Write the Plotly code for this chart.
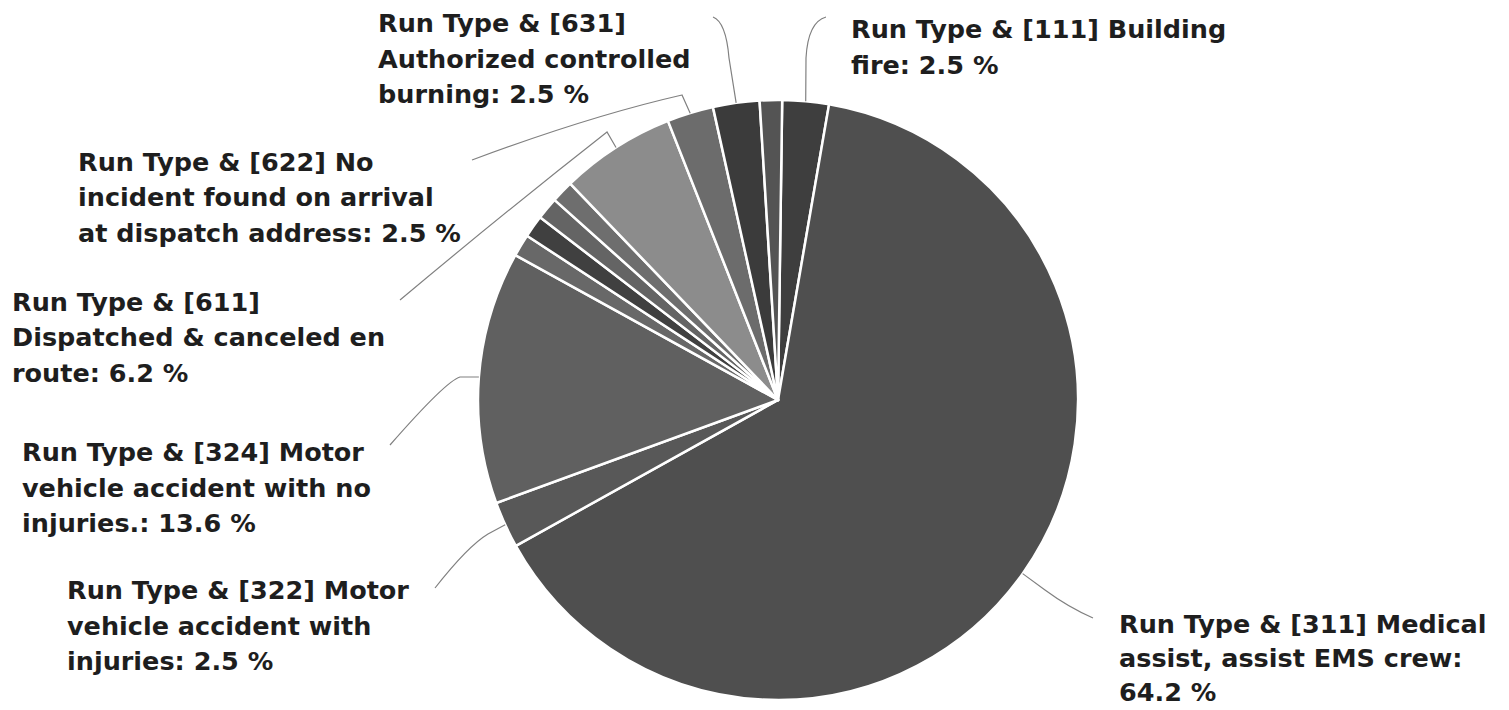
import math
import textwrap
import plotly.graph_objects as go

# ---------------- data ----------------
categories = [
    "Run Type & [111] Building fire",
    "Run Type & [311] Medical assist, assist EMS crew",
    "Run Type & [322] Motor vehicle accident with injuries",
    "Run Type & [324] Motor vehicle accident with no injuries.",
    "Run Type (unlabeled slice 1)",
    "Run Type (unlabeled slice 2)",
    "Run Type (unlabeled slice 3)",
    "Run Type (unlabeled slice 4)",
    "Run Type & [611] Dispatched & canceled en route",
    "Run Type & [622] No incident found on arrival at dispatch address",
    "Run Type & [631] Authorized controlled burning",
    "Run Type (unlabeled slice 5)",
]
values = [2.5, 64.2, 2.5, 13.6, 1.2, 1.2, 1.2, 1.2, 6.2, 2.5, 2.5, 1.2]
show_label = [True, True, True, True, False, False, False, False, True, True, True, False]

# ---------------- style / layout ----------------
slice_colors = [
    "#3e3e3e", "#4f4f4f", "#585858", "#606060",
    "#686868", "#404040", "#646464", "#6e6e6e",
    "#8c8c8c", "#6c6c6c", "#3b3b3b", "#545454",
]

W, H = 1509, 710
CX, CY, R = 778, 400, 300          # pie centre and radius in pixels
ROTATION = 0.8                      # degrees clockwise from 12 o'clock
FONT = dict(family="DejaVu Sans", size=25.5, color="#1e1e1e")

# per labelled slice: text left x, first-line centre y, line pitch, wrap width,
# leader elbow, curve control, leader end (pixels)
label_layout = {
    0: dict(x=850, y=29, pitch=35.5, wrap=25, elbow=(806, 58), ctrl=(808, 22), end=(826, 17)),
    1: dict(x=1118, y=624, pitch=34, wrap=24, elbow=(1045, 590), ctrl=(1068, 607), end=(1093, 618)),
    2: dict(x=66, y=590, pitch=35.5, wrap=22, elbow=(488, 534), ctrl=(468, 546), end=(435, 588)),
    3: dict(x=21, y=452, pitch=35.5, wrap=24, elbow=(460, 377), ctrl=(446, 381), end=(390, 445)),
    8: dict(x=11, y=302, pitch=35.5, wrap=24, elbow=(607, 132), ctrl=(505, 212), end=(400, 300)),
    9: dict(x=77, y=162, pitch=35.5, wrap=26, elbow=(682, 95), ctrl=(590, 116), end=(472, 160)),
    10: dict(x=377, y=23, pitch=35.5, wrap=21, elbow=(729, 58), ctrl=(726, 22), end=(713, 17)),
}


def px(x):
    return x / W


def py(y):
    return 1 - y / H


fig = go.Figure(
    go.Pie(
        labels=categories,
        values=values,
        sort=False,
        direction="clockwise",
        rotation=ROTATION,
        marker=dict(colors=slice_colors, line=dict(color="white", width=2.5)),
        textinfo="none",
        domain=dict(x=[(CX - R) / W, (CX + R) / W], y=[py(CY + R), py(CY - R)]),
        showlegend=False,
    )
)

total = sum(values)
annotations = []
shapes = []
cum = 0.0
for i, (cat, val) in enumerate(zip(categories, values)):
    mid = ROTATION + (cum + val / 2) / total * 360
    cum += val
    if not show_label[i]:
        continue
    lay = label_layout[i]
    text = f"{cat}: {val:.1f} %"
    lines = textwrap.wrap(text, lay["wrap"], break_on_hyphens=False)
    for k, line in enumerate(lines):
        annotations.append(dict(
            x=px(lay["x"]), y=py(lay["y"] + k * lay["pitch"]),
            xref="paper", yref="paper", xanchor="left", yanchor="middle",
            text=f"<b>{line}</b>", showarrow=False, font=FONT, borderpad=0,
        ))
    a = math.radians(mid)
    ax, ay = CX + R * math.sin(a), CY - R * math.cos(a)
    ex, ey = lay["elbow"]
    cx, cy = lay["ctrl"]
    tx, ty = lay["end"]
    path = (f"M {px(ax)},{py(ay)} L {px(ex)},{py(ey)} "
            f"Q {px(cx)},{py(cy)} {px(tx)},{py(ty)}")
    shapes.append(dict(type="path", path=path, xref="paper", yref="paper",
                       line=dict(color="#808080", width=1.2)))

fig.update_layout(
    width=W, height=H,
    margin=dict(l=0, r=0, t=0, b=0),
    paper_bgcolor="white", plot_bgcolor="white",
    annotations=annotations, shapes=shapes,
)

fig.write_html(
    "out.html",
    config={"displayModeBar": False},
    post_script="document.body.style.margin='0';document.body.style.overflow='hidden';",
)
